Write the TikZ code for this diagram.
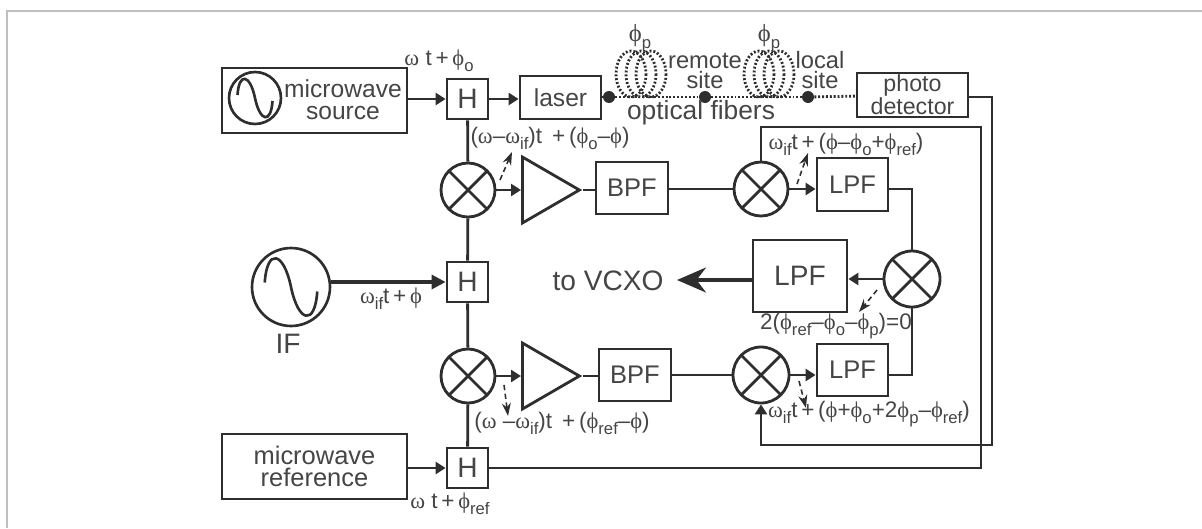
\documentclass[tikz,border=0pt]{standalone}
\usepackage{fontspec}
\setmainfont{Liberation Sans}
\newfontfamily\greekfont{Liberation Serif}
\usepackage{tikz}
\usetikzlibrary{arrows.meta,shapes.geometric}
\definecolor{ink}{HTML}{2e2e2e}
\definecolor{txt}{HTML}{454545}
\newcommand{\om}{{\greekfont ω}}
\newcommand{\ph}{{\greekfont ϕ}}
\newcommand{\sub}[1]{\raisebox{-.5ex}{\fontsize{9.5}{9.5}\selectfont #1}}
\tikzset{
	blk/.style={shape=rectangle,draw=ink,line width=1.6pt,inner sep=0pt,text=txt,align=center,font=\fontsize{14.5}{12.5}\selectfont},
	hyb/.style={blk,minimum width=0.82cm,minimum height=0.8cm,font=\fontsize{16}{16}\selectfont},
	mix/.style={shape=circle,draw=ink,line width=1.6pt,minimum size=1.08cm,inner sep=0pt,path picture={
		\draw[ink,line width=1.6pt] (path picture bounding box.north west) -- (path picture bounding box.south east);
		\draw[ink,line width=1.6pt] (path picture bounding box.north east) -- (path picture bounding box.south west);}},
	osc/.style={shape=circle,draw=ink,line width=1.5pt,inner sep=0pt,minimum size=#1*1.04cm,path picture={
		\draw[ink,line width=1.5pt,shift={(path picture bounding box.center)}] (-17.5*#1,-3*#1) .. controls (-16*#1,-26*#1) and (-5*#1,-24*#1) .. (0,0) .. controls (5*#1,24*#1) and (16*#1,26*#1) .. (17.5*#1,3*#1);}},
	amp/.style={shape=isosceles triangle,isosceles triangle stretches,draw=ink,line width=1.6pt,minimum width=1.32cm,minimum height=1.14cm,inner sep=0pt,anchor=lower side},
	lbl/.style={inner sep=0pt,text=txt,align=center,font=\fontsize{12.8}{12.8}\selectfont},
	word/.style={inner sep=0pt,text=txt,align=center,font=\fontsize{14}{12.5}\selectfont},
	wire/.style={draw=ink,line width=1.6pt},
	arr/.style={wire,-{Triangle[length=.2cm,width=.24cm]}},
	hint/.style={draw=ink,line width=.9pt,densely dashed,-{Stealth[length=.26cm,width=.18cm]}},
	fiber/.style={draw=ink,line width=1.6pt,dash pattern=on 1.1pt off 1.1pt},
	tap/.style={shape=circle,fill=ink,minimum size=.24cm,inner sep=0pt}
}
\begin{document}
\begin{tikzpicture}[x=0.02cm,y=-0.02cm]
		\useasboundingbox (0,0) rectangle (1202,528);
		\draw[color=black!25,line width=1.1pt] (7,528) -- (7,11) -- (1202,11);

		% top row
		\node[blk,minimum width=3.7cm,minimum height=1.3cm] (src) at (314.5,100.5) {};
		\node[osc=1] (srcosc) at (255,98) {};
		\node[word] (srctxt) at (343,100) {microwave\\source};
		\node[hyb] (h1) at (467.5,99) {H};
		\node[blk,minimum width=1.62cm,minimum height=.86cm,font=\fontsize{14}{14}\selectfont] (laser) at (560.5,97.5) {laser};
		\node[tap] (t1) at (609,97) {};
		\node[tap] (t2) at (705,97) {};
		\node[tap] (t3) at (808,97) {};
		\node[blk,minimum width=2.22cm,minimum height=.88cm,font=\fontsize{13.2}{11}\selectfont] (pd) at (912.5,95) {photo\\detector};

		% fibers
		\foreach \xc in {631,641,651,759,769,779}
			\draw[fiber] (\xc,74) ellipse (15 and 23);
		\path (t1) edge[fiber] (t2);
		\path (t2) edge[fiber] (t3);
		\path (t3) edge[fiber] (pd);
		\node[lbl,font=\fontsize{14}{14}\selectfont] (phip1) at (640,38) {\ph\sub{p}};
		\node[lbl,font=\fontsize{14}{14}\selectfont] (phip2) at (769,38) {\ph\sub{p}};
		\node[word,font=\fontsize{13.5}{11.5}\selectfont] (remote) at (705,71) {remote\\site};
		\node[word,font=\fontsize{13.5}{11.5}\selectfont] (local) at (820,70) {local\\site};
		\node[word,font=\fontsize{15}{15}\selectfont] (fibers) at (701,113) {optical fibers};

		% upper branch
		\node[mix] (m1) at (468,190) {};
		\node[amp] (a1) at (521,190) {};
		\node[blk,minimum width=1.44cm,minimum height=1.04cm] (bpf1) at (632,188) {BPF};
		\node[mix] (m2) at (761,189) {};
		\node[blk,minimum width=1.42cm,minimum height=1.06cm] (lpf1) at (852.5,184.5) {LPF};

		% middle row
		\node[osc=1.5] (ifosc) at (291,287) {};
		\node[word,font=\fontsize{16}{16}\selectfont] (iftxt) at (288,344) {IF};
		\node[hyb] (h2) at (467.5,282) {H};
		\node[word,font=\fontsize{16}{16}\selectfont] (vcxo) at (608,281) {to VCXO};
		\node[blk,minimum width=1.88cm,minimum height=1.44cm,font=\fontsize{16}{16}\selectfont] (lpf3) at (800,276) {LPF};
		\node[mix,minimum size=1.12cm] (m3) at (912,279) {};

		% lower branch
		\node[mix] (m4) at (468,376) {};
		\node[amp] (a2) at (521,376) {};
		\node[blk,minimum width=1.44cm,minimum height=1.04cm] (bpf2) at (635,375) {BPF};
		\node[mix,minimum size=1.12cm] (m5) at (761,375) {};
		\node[blk,minimum width=1.42cm,minimum height=1.04cm] (lpf2) at (852.5,370) {LPF};

		% bottom row
		\node[blk,minimum width=3.7cm,minimum height=1.3cm] (ref) at (314.5,466.5) {microwave\\reference};
		\node[hyb] (h3) at (467.5,468) {H};

		% connectors
		\coordinate (vc) at (677,280);
		\coordinate (fb1) at (981,127);
		\coordinate (fb2) at (992,445);
		\path (src.east |- h1) edge[arr] (h1);
		\path (h1) edge[arr] (h1 -| laser.west);
		\path (laser.east |- t1) edge[wire] (t1);
		\path (h1) edge[wire] (m1);
		\path (m1) edge[wire] (h2);
		\path (h2) edge[wire] (m4);
		\path (m4) edge[wire] (h3);
		\path (m1) edge[arr] (a1.lower side);
		\path (a1.apex) edge[wire] (a1.apex -| bpf1.west);
		\path (bpf1.east |- m2) edge[wire] (m2);
		\path (m2) edge[arr] (m2 -| lpf1.west);
		\path (m4) edge[arr] (a2.lower side);
		\path (a2.apex) edge[wire] (a2.apex -| bpf2.west);
		\path (bpf2) edge[wire] (m5);
		\path (m5) edge[arr] (m5 -| lpf2.west);
		\path (ifosc.east |- h2) edge[wire,line width=1.8pt,-{Triangle[length=.28cm,width=.28cm]}] (h2);
		\path (ref.east |- h3) edge[arr] (h3);
		\path (m3) edge[arr] (m3 -| lpf3.east);
		\path (lpf3.west |- vc) edge[wire,line width=2pt,-{Stealth[length=.58cm,width=.5cm]}] (vc);
		\draw[wire] (lpf1.east |- m2) -| (m3);
		\draw[wire] (lpf2.east |- m5) -| (m3);
		\draw[wire] (m2) |- (fb1) |- (h3);
		\draw[arr] (pd.east |- t3) -| (fb2) -| (m5);

		% dashed hints
		\coordinate (d1) at (500,180);
		\coordinate (e1) at (512,152);
		\coordinate (d2) at (797,184);
		\coordinate (e2) at (808,153);
		\coordinate (d3) at (877,290);
		\coordinate (e3) at (859,312);
		\coordinate (d4) at (504,385);
		\coordinate (e4) at (508,416);
		\coordinate (d5) at (799,381);
		\coordinate (e5) at (806,408);
		\path (d1) edge[hint] (e1);
		\path (d2) edge[hint] (e2);
		\path (d3) edge[hint] (e3);
		\path (d4) edge[hint] (e4);
		\path (d5) edge[hint] (e5);

		% signal labels
		\node[lbl] (l1) at (439,61) {\om\ t\,+\,\ph\sub{o}};
		\node[lbl] (l2) at (550,138) {(\om–\om\sub{if})t \,+\,(\ph\sub{o}–\ph)};
		\node[lbl] (l3) at (846,144) {\om\sub{if}t\,+\,(\ph–\ph\sub{o}+\ph\sub{ref})};
		\node[lbl] (l4) at (391,299) {\om\sub{if}t\,+\,\ph};
		\node[lbl] (l5) at (836,326) {2(\ph\sub{ref}–\ph\sub{o}–\ph\sub{p})=0};
		\node[lbl] (l6) at (869,414) {\om\sub{if}t\,+\,(\ph+\ph\sub{o}+2\ph\sub{p}–\ph\sub{ref})};
		\node[lbl] (l7) at (562,423) {(\om\ –\om\sub{if})t \,+\,(\ph\sub{ref}–\ph)};
		\node[lbl] (l8) at (450,504) {\om\ t\,+\,\ph\sub{ref}};
		\end{tikzpicture}
\end{document}
